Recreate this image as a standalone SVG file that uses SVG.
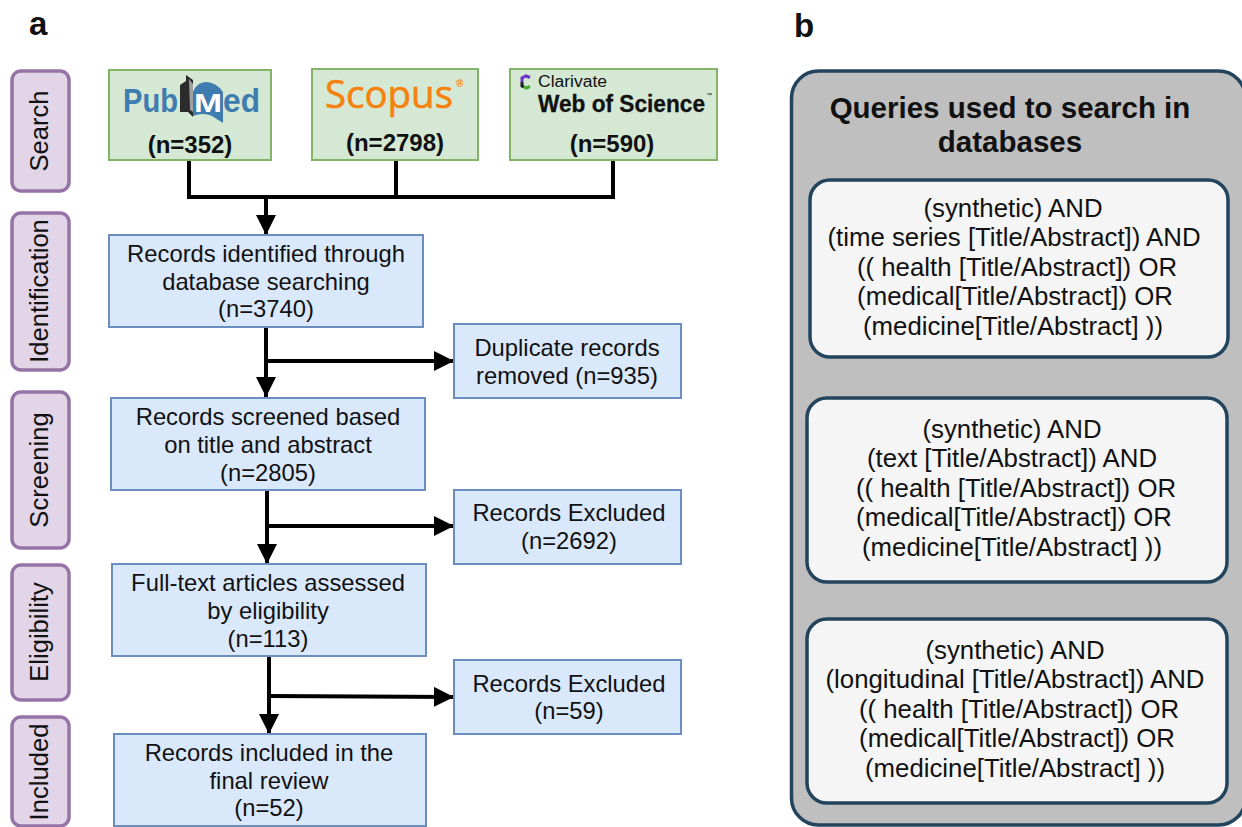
<svg xmlns="http://www.w3.org/2000/svg" width="1242" height="827" viewBox="0 0 1242 827">
<style>
text{font-family:"Liberation Sans",Arial,sans-serif;fill:#111}
.t{font-size:23.8px;text-anchor:middle}
.v{font-size:25.6px;text-anchor:middle}
.q{font-size:25.8px;text-anchor:middle}
.n{font-size:24px;font-weight:bold;text-anchor:middle}
.h{font-size:29.5px;font-weight:bold;text-anchor:middle}
.l{font-size:33px;font-weight:bold}
.s{fill:#e1d5e7;stroke:#9673a6;stroke-width:3.5}
.g{fill:#d5e8d4;stroke:#82b366;stroke-width:2}
.b{fill:#dae8fc;stroke:#6c8ebf;stroke-width:2}
.p{fill:#f5f5f5;stroke:#23445d;stroke-width:3.5}
.c{fill:none;stroke:#000;stroke-width:4}
</style>
<defs><marker id="a" markerUnits="userSpaceOnUse" markerWidth="20" markerHeight="20" refX="20" refY="10" orient="auto"><path d="M0 0L20 10L0 20Z" fill="#000"/></marker></defs>
<text class="l" x="29" y="35">a</text>
<text class="l" x="794" y="37">b</text>
<g id="stage-search"><rect class="s" x="12" y="71" width="57" height="120" rx="9"/><text class="v" transform="translate(48 131) rotate(-90)">Search</text></g>
<g id="stage-identification"><rect class="s" x="12" y="213" width="57" height="157" rx="9"/><text class="v" transform="translate(48 291) rotate(-90)">Identification</text></g>
<g id="stage-screening"><rect class="s" x="12" y="392" width="57" height="156" rx="9"/><text class="v" transform="translate(48 470) rotate(-90)">Screening</text></g>
<g id="stage-eligibility"><rect class="s" x="12" y="565" width="57" height="135" rx="9"/><text class="v" transform="translate(48 632) rotate(-90)">Eligibility</text></g>
<g id="stage-included"><rect class="s" x="12" y="717" width="57" height="109" rx="9"/><text class="v" transform="translate(48 772) rotate(-90)">Included</text></g>
<g id="connectors">
<path class="c" d="M189 161V197H613V161M396 161V197"/>
<path class="c" marker-end="url(#a)" d="M266 197V235"/>
<path class="c" marker-end="url(#a)" d="M266 327V397"/>
<path class="c" marker-end="url(#a)" d="M266 361L454 361"/>
<path class="c" marker-end="url(#a)" d="M267 490V564"/>
<path class="c" marker-end="url(#a)" d="M267 526L454 526"/>
<path class="c" marker-end="url(#a)" d="M269 656V734"/>
<path class="c" marker-end="url(#a)" d="M269 696L454 697"/>
</g>
<g id="pubmed"><rect class="g" x="109" y="70" width="162" height="90"/>
<text x="123" y="112" style="font-size:33px;font-weight:bold;fill:#3f7cb0" textLength="55" lengthAdjust="spacingAndGlyphs">Pub</text>
<path d="M180 112V85L186 81V75L193 80V117L188 112Z" fill="#2b2b2b"/>
<path d="M189 79L193 84V112L190 110Z" fill="#a0a0a0"/>
<path d="M193 92Q197 82 206 82Q216 82 223 92V123L212 116Q203 112 193 116Z" fill="#3f7cb0"/>
<text x="194" y="112" style="font-size:26px;font-weight:bold;fill:#fff" textLength="28" lengthAdjust="spacingAndGlyphs">M</text>
<text x="223" y="112" style="font-size:33px;font-weight:bold;fill:#3f7cb0" textLength="37" lengthAdjust="spacingAndGlyphs">ed</text>
<text class="n" x="190" y="153">(n=352)</text></g>
<g id="scopus"><rect class="g" x="312" y="69" width="166" height="91"/>
<text x="325" y="108" style="font-family:'Open Sans',sans-serif;font-size:39px;fill:#f5820d;stroke:#f5820d;stroke-width:.6" textLength="128" lengthAdjust="spacingAndGlyphs">Scopus</text>
<text x="456" y="87" style="font-size:10px;font-weight:bold;fill:#f5820d">®</text>
<text class="n" x="395" y="151">(n=2798)</text></g>
<g id="wos"><rect class="g" x="510" y="69" width="207" height="91"/>
<path d="M530 77.500L526 76L522 78V82" fill="none" stroke="#6a35c9" stroke-width="3"/>
<path d="M522 82V86L524 87" fill="none" stroke="#222" stroke-width="3"/>
<path d="M524 87L526 88L530 86.500" fill="none" stroke="#3fae2a" stroke-width="3"/>
<text x="538" y="87" style="font-size:16px" textLength="69" lengthAdjust="spacingAndGlyphs">Clarivate</text>
<text x="538" y="112" style="font-size:23px;font-weight:bold;stroke:#111;stroke-width:.3" textLength="167" lengthAdjust="spacingAndGlyphs">Web of Science</text>
<text x="706" y="97" style="font-size:6px">™</text>
<text class="n" x="612" y="152">(n=590)</text></g>
<g id="records-identified"><rect class="b" x="109" y="235" width="314" height="92"/><text class="t" x="266" y="262">Records identified through</text><text class="t" x="266" y="290">database searching</text><text class="t" x="266" y="317">(n=3740)</text></g>
<g id="duplicates"><rect class="b" x="454" y="324" width="227" height="74"/><text class="t" x="567" y="356">Duplicate records</text><text class="t" x="567" y="384">removed (n=935)</text></g>
<g id="records-screened"><rect class="b" x="111" y="398" width="314" height="92"/><text class="t" x="268" y="425">Records screened based</text><text class="t" x="268" y="453">on title and abstract</text><text class="t" x="268" y="481">(n=2805)</text></g>
<g id="excluded-1"><rect class="b" x="454" y="490" width="227" height="74"/><text class="t" x="569" y="521">Records Excluded</text><text class="t" x="569" y="549">(n=2692)</text></g>
<g id="full-text"><rect class="b" x="112" y="564" width="314" height="92"/><text class="t" x="268" y="591">Full-text articles assessed</text><text class="t" x="268" y="619">by eligibility</text><text class="t" x="268" y="647">(n=113)</text></g>
<g id="excluded-2"><rect class="b" x="454" y="660" width="227" height="74"/><text class="t" x="569" y="692">Records Excluded</text><text class="t" x="569" y="719">(n=59)</text></g>
<g id="included"><rect class="b" x="114" y="734" width="312" height="92"/><text class="t" x="269" y="761">Records included in the</text><text class="t" x="269" y="789">final review</text><text class="t" x="269" y="816">(n=52)</text></g>
<g id="panel"><rect x="791.500" y="71" width="454" height="754" rx="27" fill="#bfbfbf" stroke="#23445d" stroke-width="3.500"/>
<text class="h" x="1010" y="118">Queries used to search in</text><text class="h" x="1010" y="152">databases</text></g>
<g id="query-1"><rect class="p" x="810" y="180" width="418" height="177" rx="20"/>
<text class="q" x="1013" y="217">(synthetic) AND</text><text class="q" x="1014" y="246">(time series [Title/Abstract]) AND</text><text class="q" x="1017" y="276">(( health [Title/Abstract]) OR</text><text class="q" x="1015" y="305">(medical[Title/Abstract]) OR</text><text class="q" x="1013" y="335">(medicine[Title/Abstract] ))</text></g>
<g id="query-2"><rect class="p" x="807" y="398" width="420" height="184" rx="20"/>
<text class="q" x="1012" y="438">(synthetic) AND</text><text class="q" x="1012" y="467">(text [Title/Abstract]) AND</text><text class="q" x="1016" y="497">(( health [Title/Abstract]) OR</text><text class="q" x="1014" y="526">(medical[Title/Abstract]) OR</text><text class="q" x="1012" y="556">(medicine[Title/Abstract] ))</text></g>
<g id="query-3"><rect class="p" x="807" y="619" width="420" height="184" rx="20"/>
<text class="q" x="1015" y="659">(synthetic) AND</text><text class="q" x="1015" y="688">(longitudinal [Title/Abstract]) AND</text><text class="q" x="1019" y="718">(( health [Title/Abstract]) OR</text><text class="q" x="1017" y="747">(medical[Title/Abstract]) OR</text><text class="q" x="1015" y="777">(medicine[Title/Abstract] ))</text></g>
</svg>
